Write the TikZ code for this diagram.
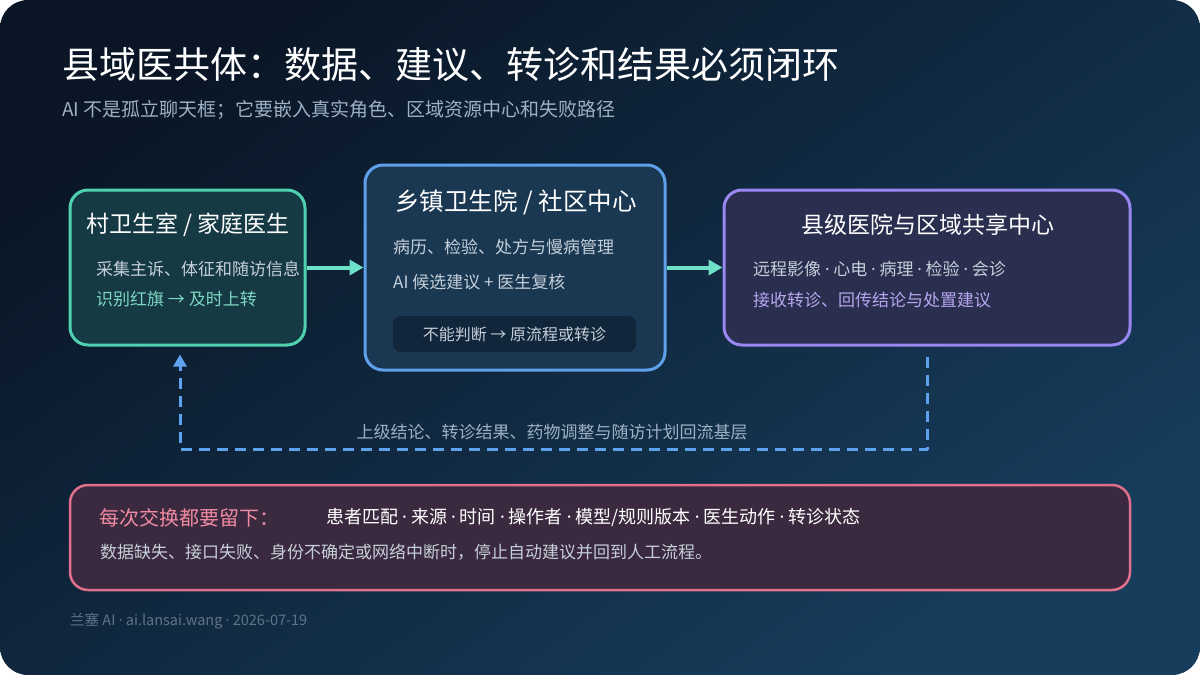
\documentclass[tikz,border=0pt]{standalone}
\usepackage{fontspec}
\setmainfont{Noto Sans CJK SC}
\newfontfamily\latinfont{Noto Sans}
\usetikzlibrary{arrows.meta}

\definecolor{bgtop}{HTML}{0A1626}
\definecolor{bgbot}{HTML}{173D5C}
\definecolor{villedge}{HTML}{4FD1B0}
\definecolor{villfill}{HTML}{163A44}
\definecolor{villnote}{HTML}{7DD6C0}
\definecolor{townedge}{HTML}{5FA0EA}
\definecolor{townfill}{HTML}{1A3852}
\definecolor{townnote}{HTML}{11263A}
\definecolor{cntyedge}{HTML}{9A86F0}
\definecolor{cntyfill}{HTML}{2A2F50}
\definecolor{cntynote}{HTML}{B6A6EE}
\definecolor{logedge}{HTML}{E0708C}
\definecolor{logfill}{HTML}{3B2A3F}
\definecolor{logtitle}{HTML}{F08AA2}
\definecolor{flowarrow}{HTML}{6EE0C8}
\definecolor{backflow}{HTML}{5EA2EE}
\definecolor{bodytext}{HTML}{C5CFD9}
\definecolor{subtext}{HTML}{9DB0C4}
\definecolor{foottext}{HTML}{5E7387}

% Narrow separator dot between list items.
\newcommand{\dotsep}{\ {\latinfont ·}\ }

\tikzset{
  tierbox/.style={rounded corners=18pt,line width=3pt,inner sep=0pt},
  tiertitle/.style={text=white,inner sep=0pt,font=\fontsize{23}{28}\selectfont},
  bodyline/.style={anchor=west,inner sep=0pt,text=bodytext,font=\fontsize{17}{20}\selectfont},
  flowline/.style={draw=flowarrow,line width=4pt,-{Triangle[length=14pt,width=15pt]}},
  backloop/.style={draw=backflow,line width=3pt,dash pattern=on 11pt off 7pt,-{Triangle[length=12pt,width=13pt]}}
}

\begin{document}
\begin{tikzpicture}[x=1pt,y=-1pt,line join=round]
  % Frame of the slide, white page behind the rounded card.
  \useasboundingbox (0,0) rectangle (1200,675);
  \fill[white] (0,0) rectangle (1200,675);
  \shade[rounded corners=28pt,top color=bgtop,bottom color=bgbot,shading angle=35]
    (0,0) rectangle (1200,675);

  % Heading.
  \node[anchor=west,inner sep=0pt,text=white,font=\fontsize{37}{43}\selectfont]
    (title) at (62,65) {县域医共体：数据、建议、转诊和结果必须闭环};
  \node[anchor=west,inner sep=0pt,text=subtext,font=\fontsize{19}{22}\selectfont]
    (subtitle) at (62,110) {AI 不是孤立聊天框；它要嵌入真实角色、区域资源中心和失败路径};

  % Three tiers of care.
  \node[tierbox,draw=villedge,fill=villfill,minimum width=235pt,minimum height=155pt]
    (village) at (187.5,267.5) {};
  \node[tierbox,draw=townedge,fill=townfill,minimum width=300pt,minimum height=205pt]
    (town) at (515,267.5) {};
  \node[tierbox,draw=cntyedge,fill=cntyfill,minimum width=406pt,minimum height=155pt]
    (county) at (927,267.5) {};

  \node[tiertitle] (villagetitle) at (188,225) {村卫生室 / 家庭医生};
  \node[bodyline] (villageone) at (96,269) {采集主诉、体征和随访信息};
  \node[bodyline,text=villnote] (villagetwo) at (96,299) {识别红旗 → 及时上转};

  \node[tiertitle,font=\fontsize{24.5}{30}\selectfont] (towntitle) at (516,202) {乡镇卫生院 / 社区中心};
  \node[bodyline] (townone) at (393,247) {病历、检验、处方与慢病管理};
  \node[bodyline] (towntwo) at (393,282) {AI 候选建议 + 医生复核};
  \node[rounded corners=8pt,fill=townnote,minimum width=243pt,minimum height=36pt,inner sep=0pt,
    text=bodytext,font=\fontsize{16}{19}\selectfont] (townfallback) at (514.5,334) {不能判断 → 原流程或转诊};

  \node[tiertitle] (countytitle) at (928,225) {县级医院与区域共享中心};
  \node[bodyline] (countyone) at (753,269) {远程影像\dotsep 心电\dotsep 病理\dotsep 检验\dotsep 会诊};
  \node[bodyline,text=cntynote] (countytwo) at (753,300) {接收转诊、回传结论与处置建议};

  % Referral goes up, results flow back down.
  \draw[flowline] (village.east) -- (town.west);
  \draw[flowline] (town.east) -- (county.west);

  \coordinate (backstart) at ([yshift=-10pt]county.south);
  \coordinate (backend) at ([xshift=-7.5pt,yshift=-8pt]village.south);
  \coordinate (backlow) at (600,449);
  \draw[backloop] (backstart) -- (backstart |- backlow) -- (backend |- backlow) -- (backend);
  \node[inner sep=0pt,text=subtext,font=\fontsize{17}{20}\selectfont]
    (backlabel) at (552,432) {上级结论、转诊结果、药物调整与随访计划回流基层};

  % Audit trail and fallback.
  \node[tierbox,draw=logedge,fill=logfill,line width=2.5pt,minimum width=1060pt,minimum height=105pt]
    (audit) at (600,537.5) {};
  \node[bodyline,text=logtitle,font=\fontsize{20}{24}\selectfont] (audittitle) at (99,518) {每次交换都要留下：};
  \node[bodyline,text=white,font=\fontsize{18}{22}\selectfont] (auditfields) at (326,518)
    {患者匹配\dotsep 来源\dotsep 时间\dotsep 操作者\dotsep 模型/规则版本\dotsep 医生动作\dotsep 转诊状态};
  \node[bodyline] (auditfallback) at (100,552)
    {数据缺失、接口失败、身份不确定或网络中断时，停止自动建议并回到人工流程。};

  % Footer.
  \node[anchor=west,inner sep=0pt,text=foottext,font=\fontsize{14.5}{17}\selectfont]
    (footer) at (70,621) {兰塞 AI\dotsep ai.lansai.wang\dotsep 2026-07-19};
\end{tikzpicture}
\end{document}
